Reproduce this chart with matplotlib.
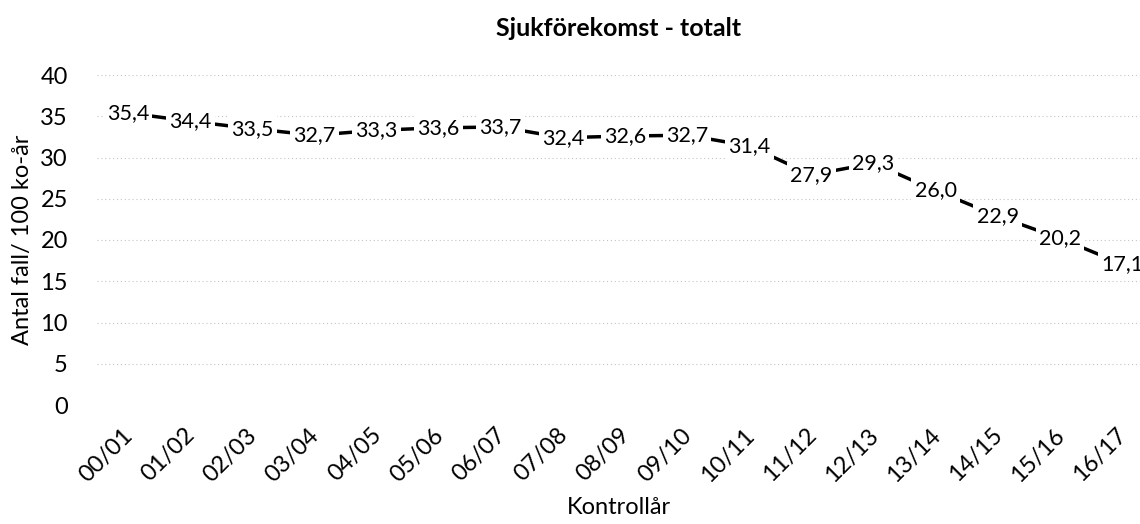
import matplotlib.pyplot as plt
from matplotlib.transforms import ScaledTranslation

plt.rcParams['font.family'] = ['Lato', 'DejaVu Sans']

# Kontrollår och sjukförekomst
ar = ['00/01', '01/02', '02/03', '03/04', '04/05', '05/06', '06/07', '07/08', '08/09',
      '09/10', '10/11', '11/12', '12/13', '13/14', '14/15', '15/16', '16/17']
sjuk = [35.4, 34.4, 33.5, 32.7, 33.3, 33.6, 33.7, 32.4, 32.6,
        32.7, 31.4, 27.9, 29.3, 26.0, 22.9, 20.2, 17.1]

fig = plt.figure(figsize=(11.4, 5.24), dpi=100)
ax = fig.add_axes([97 / 1140, 119 / 524, 1043 / 1140, 330 / 524])

x = list(range(len(ar)))
ax.plot(x, sjuk, color='black', linewidth=2.5, zorder=2)

# Etiketter centrerade på punkterna, vit bakgrund som döljer linjen
for xi, v in zip(x, sjuk):
    ax.text(xi, v, f'{v:.1f}'.replace('.', ','), ha='center', va='center',
            fontsize=15.5, color='black', zorder=3,
            bbox=dict(boxstyle='square,pad=0.15', fc='white', ec='none'))

ax.set_ylim(0, 40)
ax.set_yticks(range(0, 41, 5))
ax.set_xlim(-0.5, 16.29)
ax.set_xticks(x)
ax.set_xticklabels(ar, rotation=45, ha='right', rotation_mode='anchor')
ax.tick_params(axis='both', length=0, labelsize=17, colors='black')
ax.tick_params(axis='x', pad=14)
ax.tick_params(axis='y', pad=21)
shift = ScaledTranslation(-6 / 100, 0, fig.dpi_scale_trans)
for lbl in ax.get_xticklabels():
    lbl.set_transform(lbl.get_transform() + shift)

ax.grid(axis='y', color='#c4c4c4', linestyle=(0, (1, 2.5)), linewidth=0.8)
ax.set_axisbelow(True)
for s in ax.spines.values():
    s.set_visible(False)

ax.set_title('Sjukförekomst - totalt', fontsize=18, fontweight='bold', pad=28)
ax.set_ylabel('Antal fall/ 100 ko-år', fontsize=17, labelpad=5)
ax.set_xlabel('Kontrollår', fontsize=17, labelpad=8)

fig.savefig('out.png', dpi=100)
